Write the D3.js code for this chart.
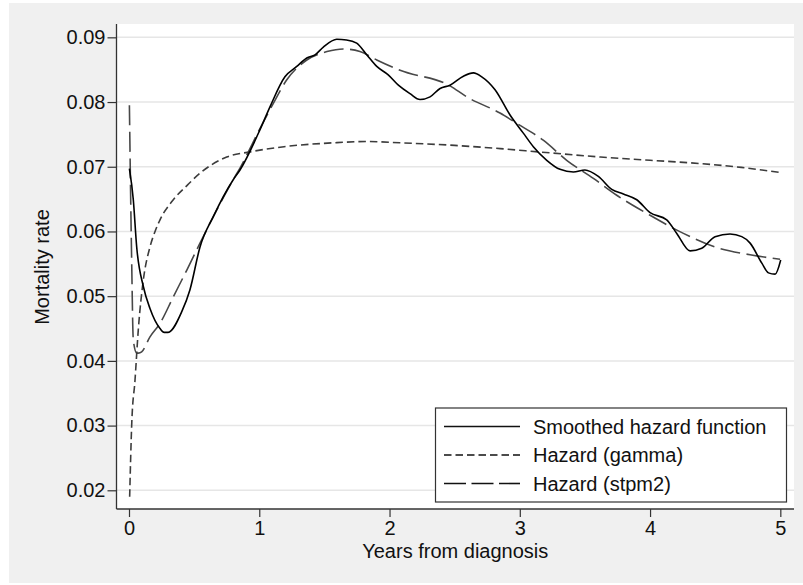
<!DOCTYPE html>
<html>
<head>
<meta charset="utf-8">
<script src="https://cdn.jsdelivr.net/npm/d3@7/dist/d3.min.js"></script>
<style>
html,body{margin:0;padding:0;background:#fff;}
svg{display:block;font-family:"Liberation Sans",Arial,Helvetica,sans-serif;}
</style>
</head>
<body>
<svg id="chart" width="803" height="585"></svg>
<script>
// ---- data ----
const smoothX = [0.003,0.033,0.059,0.11,0.161,0.238,0.27,0.3,0.405,0.468,0.545,0.647,0.80,0.852,1.005,1.083,1.197,1.288,1.365,1.428,1.492,1.595,1.67,1.748,1.825,1.902,1.99,2.068,2.157,2.234,2.311,2.388,2.464,2.567,2.644,2.708,2.81,2.925,3.027,3.104,3.207,3.309,3.411,3.5,3.603,3.706,3.795,3.898,4.0,4.128,4.205,4.307,4.397,4.499,4.614,4.704,4.768,4.858,4.909,4.96,5.003];
const smoothY = [0.0697,0.0649,0.0576,0.0515,0.0481,0.0450,0.0444,0.0444,0.0476,0.0510,0.0576,0.0623,0.0680,0.0695,0.0757,0.0793,0.0839,0.0855,0.0868,0.0873,0.0885,0.0897,0.0896,0.0891,0.0873,0.0855,0.0842,0.0826,0.0813,0.0804,0.0808,0.0821,0.0826,0.0840,0.0845,0.0839,0.0819,0.0780,0.0752,0.0731,0.0710,0.0696,0.0692,0.0695,0.0685,0.0665,0.0658,0.0649,0.0629,0.0618,0.0597,0.0570,0.0574,0.0592,0.0596,0.0592,0.0582,0.0551,0.0536,0.0534,0.0556];

const gammaX = [0.005,0.021,0.046,0.072,0.11,0.161,0.2,0.238,0.34,0.45,0.545,0.75,0.93,1.19,1.57,1.83,2.08,2.5,2.85,3.2,3.62,4.0,4.38,4.7,5.0];
const gammaY = [0.0190,0.0303,0.0370,0.0450,0.0525,0.0576,0.0600,0.0618,0.0649,0.0672,0.0690,0.0715,0.0723,0.0731,0.0737,0.0739,0.0737,0.0733,0.0728,0.0722,0.0715,0.0710,0.0705,0.0699,0.0691];

const stpmX = [0.003,0.02,0.033,0.059,0.072,0.097,0.161,0.238,0.34,0.443,0.545,0.673,0.80,0.852,1.005,1.108,1.21,1.365,1.52,1.645,1.773,1.902,2.081,2.464,2.593,2.848,2.977,3.18,3.36,3.565,3.744,4.0,4.256,4.512,4.768,4.998];
const stpmY = [0.0795,0.0560,0.0432,0.0412,0.0412,0.0414,0.0437,0.0458,0.0499,0.0540,0.0582,0.0633,0.0680,0.0698,0.0759,0.0798,0.0834,0.0865,0.0878,0.0882,0.0878,0.0865,0.0849,0.0825,0.0808,0.0783,0.0767,0.0741,0.0710,0.0682,0.0656,0.0625,0.0597,0.0575,0.0564,0.0557];

const xTicks = [0,1,2,3,4,5];
const yTicks = [0.02,0.03,0.04,0.05,0.06,0.07,0.08,0.09];
const seriesNames = ["Smoothed hazard function","Hazard (gamma)","Hazard (stpm2)"];
const xTitle = "Years from diagnosis";
const yTitle = "Mortality rate";

// ---- layout ----
const svg = d3.select("#chart");
const L = 116.5, R = 794, T = 24, B = 509;

svg.append("rect").attr("x",9).attr("y",3).attr("width",794).attr("height",580).attr("fill","#f0f0f0");
svg.append("rect").attr("x",L).attr("y",T).attr("width",R-L).attr("height",B-T).attr("fill","#fff");

const x = d3.scaleLinear().domain([-0.096,5.105]).range([L,R]);
const y = d3.scaleLinear().domain([0.01711,0.09206]).range([B,T]);

// gridlines
svg.append("g").selectAll("line").data(yTicks).join("line")
  .attr("x1",L).attr("x2",R).attr("y1",d=>y(d)).attr("y2",d=>y(d))
  .attr("stroke","#e6e6e6").attr("stroke-width",1.5);

// axes
const yAxis = svg.append("g").attr("transform",`translate(${L},0)`)
  .call(d3.axisLeft(y).tickValues(yTicks).tickFormat(d3.format(".2f")).tickSize(9).tickPadding(2).tickSizeOuter(0));
const xAxis = svg.append("g").attr("transform",`translate(0,${B})`)
  .call(d3.axisBottom(x).tickValues(xTicks).tickFormat(d3.format("d")).tickSize(8).tickPadding(4).tickSizeOuter(0));
[yAxis,xAxis].forEach(g=>{
  g.selectAll("path").attr("stroke","#333").attr("stroke-width",1.3);
  g.selectAll("line").attr("stroke","#333").attr("stroke-width",1.2);
  g.selectAll("text").attr("fill","#111").style("font-size","20px").style("font-family","Liberation Sans, Arial, sans-serif");
});
yAxis.select(".domain").attr("d",`M0,${T}V${B}`);
xAxis.select(".domain").attr("d",`M${L},0H${R}`);

// lines
const mk = (xs,ys)=>xs.map((v,i)=>[v,ys[i]]);
const line = d3.line().x(d=>x(d[0])).y(d=>y(d[1])).curve(d3.curveMonotoneX);
const clip = svg.append("clipPath").attr("id","pc").append("rect").attr("x",L).attr("y",T).attr("width",R-L).attr("height",B-T);
const plot = svg.append("g").attr("clip-path","url(#pc)");
const styles = [
  {stroke:"#000", dash:null},
  {stroke:"#3c3c3c", dash:"7.5,4"},
  {stroke:"#484848", dash:"20,6.5"}
];
const data = [mk(smoothX,smoothY), mk(gammaX,gammaY), mk(stpmX,stpmY)];
[2,1,0].forEach(i=>{
  plot.append("path").datum(data[i]).attr("d",line).attr("fill","none")
    .attr("stroke",styles[i].stroke).attr("stroke-width",1.6)
    .attr("stroke-dasharray",styles[i].dash);
});

// titles
svg.append("text").attr("x",(L+R)/2).attr("y",558).attr("text-anchor","middle")
  .style("font-size","20px").attr("fill","#111").text(xTitle);
svg.append("text").attr("transform","translate(48.5,267) rotate(-90)").attr("text-anchor","middle")
  .style("font-size","20px").attr("fill","#111").text(yTitle);

// legend
const lg = svg.append("g");
lg.append("rect").attr("x",435.5).attr("y",408).attr("width",351).attr("height",94)
  .attr("fill","#fff").attr("stroke","#333").attr("stroke-width",1.2);
const rowY = [426.5,455,483.5];
const legDash = [null,"7.5,4","22,5.5"];
seriesNames.forEach((n,i)=>{
  lg.append("line").attr("x1",444).attr("x2",520).attr("y1",rowY[i]).attr("y2",rowY[i])
    .attr("stroke","#111").attr("stroke-width",1.6).attr("stroke-dasharray",legDash[i]);
  lg.append("text").attr("x",533).attr("y",rowY[i]).attr("dy","0.35em")
    .style("font-size","20px").attr("fill","#111").text(n);
});
</script>
</body>
</html>
